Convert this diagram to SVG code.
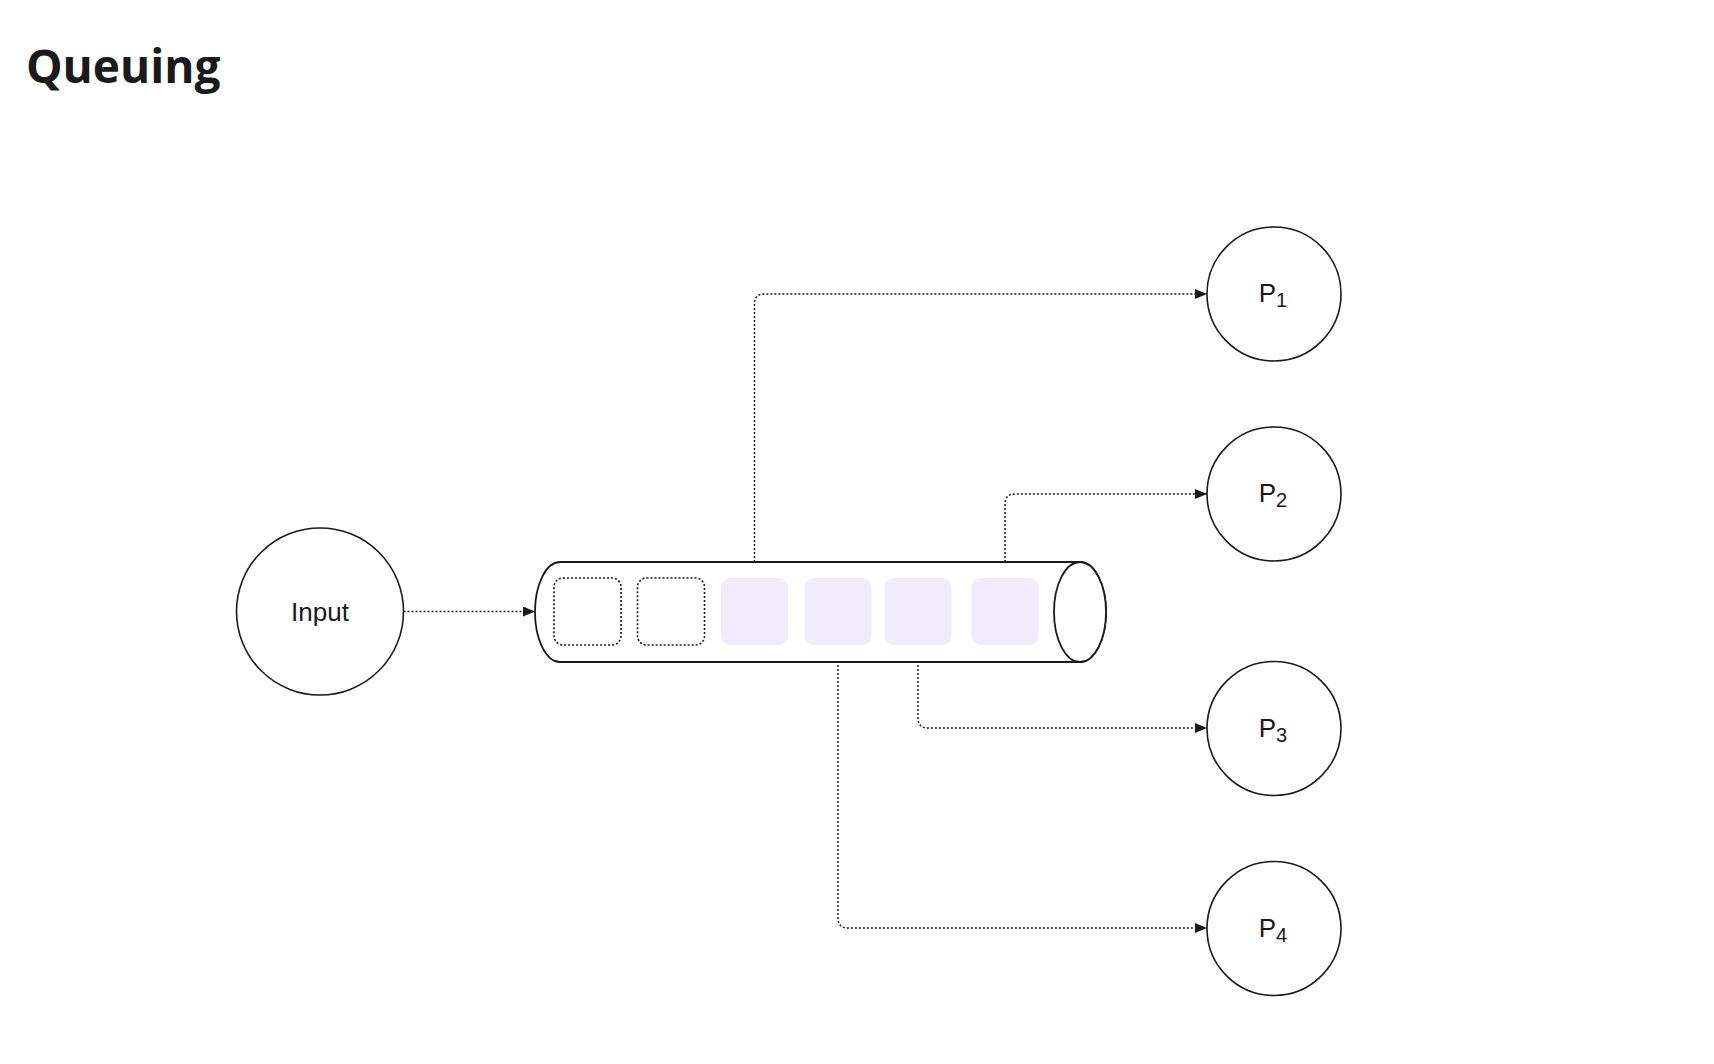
<svg xmlns="http://www.w3.org/2000/svg" width="1714" height="1064" viewBox="0 0 1714 1064">
<style>
.title{font-family:"Open Sans","Noto Sans",sans-serif;font-weight:700;font-size:46px;fill:#1a1a1a}
.lbl{font-family:"Liberation Sans",Arial,sans-serif;font-size:26px;fill:#1a1a1a}
.node{fill:#ffffff;stroke:#1a1a1a;stroke-width:1.6}
.pipe{fill:#ffffff;stroke:#1a1a1a;stroke-width:1.8}
.slot-empty{fill:none;stroke:#1a1a1a;stroke-width:1.6;stroke-dasharray:2 2}
.slot-full{fill:#f1ecfd;stroke:none}
.conn{fill:none;stroke:#1a1a1a;stroke-width:1.5;stroke-dasharray:2 2}
</style>
<defs>
<marker id="arrow" markerUnits="userSpaceOnUse" markerWidth="12" markerHeight="10" refX="12" refY="5" orient="auto">
<path d="M0,0 L12,5 L0,10 Z" fill="#1a1a1a"/>
</marker>
</defs>
<rect width="1714" height="1064" fill="#ffffff"/>
<text class="title" x="26" y="83">Queuing</text>

<g id="connectors">
<path class="conn" d="M403.5 611.5 H535" marker-end="url(#arrow)"/>
<path class="conn" d="M754.5 578 V304 Q754.5 294 764.5 294 H1207" marker-end="url(#arrow)"/>
<path class="conn" d="M1005 578 V504 Q1005 494 1015 494 H1207" marker-end="url(#arrow)"/>
<path class="conn" d="M918 645 V718 Q918 728 928 728 H1207" marker-end="url(#arrow)"/>
<path class="conn" d="M838 645 V918 Q838 928 848 928 H1207" marker-end="url(#arrow)"/>
</g>

<g id="input">
<circle class="node" cx="320" cy="611.5" r="83.5"/>
<text class="lbl" x="320" y="621" text-anchor="middle">Input</text>
</g>

<g id="queue">
<path class="pipe" d="M560 562 L1080 562 A26 50 0 0 1 1080 662 L560 662 A25 50 0 0 1 560 562 Z"/>
<ellipse class="pipe" cx="1080" cy="612" rx="26" ry="50"/>
<rect class="slot-empty" x="554" y="578" width="67" height="67" rx="9"/>
<rect class="slot-empty" x="637.5" y="578" width="67" height="67" rx="9"/>
<rect class="slot-full" x="721" y="578" width="67" height="67" rx="9"/>
<rect class="slot-full" x="804.5" y="578" width="67" height="67" rx="9"/>
<rect class="slot-full" x="884.5" y="578" width="67" height="67" rx="9"/>
<rect class="slot-full" x="971.5" y="578" width="67" height="67" rx="9"/>
</g>

<g id="p1">
<circle class="node" cx="1274" cy="294" r="67"/>
<text class="lbl" x="1273" y="302" text-anchor="middle">P<tspan dy="5" font-size="20">1</tspan></text>
</g>
<g id="p2">
<circle class="node" cx="1274" cy="494" r="67"/>
<text class="lbl" x="1273" y="502" text-anchor="middle">P<tspan dy="5" font-size="20">2</tspan></text>
</g>
<g id="p3">
<circle class="node" cx="1274" cy="728.5" r="67"/>
<text class="lbl" x="1273" y="736.5" text-anchor="middle">P<tspan dy="5" font-size="20">3</tspan></text>
</g>
<g id="p4">
<circle class="node" cx="1274" cy="928.5" r="67"/>
<text class="lbl" x="1273" y="936.5" text-anchor="middle">P<tspan dy="5" font-size="20">4</tspan></text>
</g>
</svg>
